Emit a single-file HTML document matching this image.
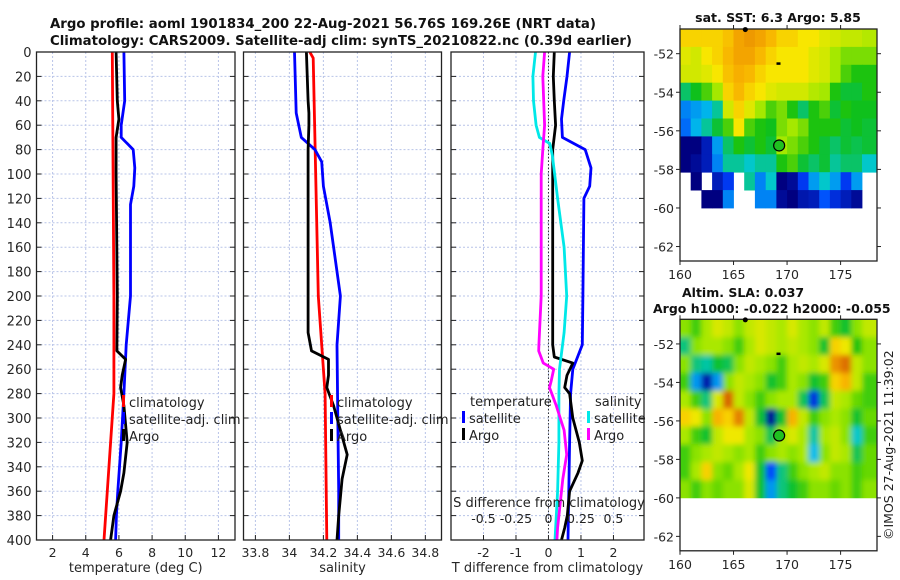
<!DOCTYPE html>
<html><head><meta charset="utf-8">
<style>
body{margin:0;background:#fff;}
svg{display:block;font-family:"DejaVu Sans","Liberation Sans",sans-serif;}
</style></head>
<body>
<svg id="fig" width="900" height="580" viewBox="0 0 900 580" xmlns="http://www.w3.org/2000/svg">
<defs>
<filter id="blur" x="-5%" y="-5%" width="110%" height="110%"><feGaussianBlur stdDeviation="2.6"/></filter>
<clipPath id="slaclip"><rect x="680" y="319.3" width="197" height="179"/></clipPath>
</defs>
<text x="50" y="28" font-size="13.2" font-weight="bold" fill="#111" textLength="546" lengthAdjust="spacingAndGlyphs">Argo profile: aoml 1901834_200 22-Aug-2021 56.76S 169.26E (NRT data)</text>
<text x="50" y="45" font-size="13.2" font-weight="bold" fill="#111" textLength="582" lengthAdjust="spacingAndGlyphs">Climatology: CARS2009. Satellite-adj clim: synTS_20210822.nc (0.39d earlier)</text>
<text x="778" y="22" font-size="12.5" font-weight="bold" text-anchor="middle" fill="#111">sat. SST: 6.3 Argo: 5.85</text>
<text x="682" y="297" font-size="12.5" font-weight="bold" fill="#111">Altim. SLA: 0.037</text>
<text x="653" y="313" font-size="12.5" font-weight="bold" fill="#111">Argo h1000: -0.022 h2000: -0.055</text>
<text transform="translate(893,540) rotate(-90)" font-size="12.5" fill="#222">©IMOS 27-Aug-2021 11:39:02</text>
</svg>
<script>
// depth axis
const depthTicks=[0,20,40,60,80,100,120,140,160,180,200,220,240,260,280,300,320,340,360,380,400];
// temperature panel
const tTicks=[2,4,6,8,10,12];
const tClimDepth=[0,100,200,280,320,360,400];
const tClim=[5.6,5.65,5.7,5.7,5.5,5.3,5.1];
const tSatDepth=[0,40,60,70,80,95,110,125,200,240,280,320,360,380,400];
const tSat=[6.3,6.35,6.14,6.14,6.86,6.96,6.9,6.7,6.7,6.44,6.3,6.14,5.93,5.85,5.8];
const tArgoDepth=[0,40,55,70,100,200,245,252,265,275,290,320,345,360,380,400];
const tArgo=[5.83,5.9,6.0,5.83,5.83,5.9,5.88,6.4,6.2,6.1,6.3,6.5,6.3,6.1,5.7,5.5];
// salinity panel
const sTicks=[33.8,34,34.2,34.4,34.6,34.8];
const sTickLabels=["33.8","34","34.2","34.4","34.6","34.8"];
const sClimDepth=[0,5,200,240,280,400];
const sClim=[34.12,34.14,34.17,34.19,34.21,34.22];
const sSatDepth=[0,50,70,80,90,110,140,150,200,240,300,360,400];
const sSat=[34.03,34.04,34.07,34.15,34.19,34.2,34.24,34.25,34.3,34.28,34.285,34.29,34.29];
const sArgoDepth=[0,40,50,60,80,200,230,245,252,265,275,290,330,350,380,400];
const sArgo=[34.1,34.11,34.115,34.115,34.11,34.11,34.11,34.13,34.23,34.23,34.22,34.26,34.34,34.31,34.29,34.28];
// difference panel
const dTTicks=[-2,-1,0,1,2];
const dSTicks=[-0.5,-0.25,0,0.25,0.5];
const dSTickLabels=["-0.5","-0.25","0","0.25","0.5"];
const dTSatDepth=[0,20,40,55,70,80,95,110,120,200,240,260,280,320,400];
const dTSat=[0.65,0.57,0.47,0.4,0.43,1.13,1.31,1.27,1.09,1.06,1.04,0.75,0.68,0.65,0.6];
const dTArgoDepth=[0,20,40,60,80,240,250,255,265,275,280,300,320,335,345,360,380,390,400];
const dTArgo=[0.18,0.15,0.18,0.22,0.13,0.13,0.18,0.75,0.57,0.5,0.65,0.75,0.95,1.04,0.91,0.65,0.58,0.5,0.4];
const dSSatDepth=[0,20,40,60,70,75,85,120,160,200,230,260,280,320,360,400];
const dSSat=[-0.1,-0.12,-0.115,-0.095,-0.07,0.01,0.03,0.07,0.12,0.14,0.12,0.085,0.08,0.08,0.07,0.05];
const dSArgoDepth=[0,20,60,80,100,200,240,245,255,260,270,275,290,310,330,350,370,390,400];
const dSArgo=[-0.03,-0.044,-0.03,-0.044,-0.056,-0.056,-0.074,-0.075,-0.04,0.04,0.02,0.008,0.06,0.12,0.14,0.11,0.09,0.07,0.065];
// maps
const mapLons=[160,161,162,163,164,165,166,167,168,169,170,171,172,173,174,175,176,177];
const mapLatTicks=[-52,-54,-56,-58,-60,-62];
const mapLonTicks=[160,165,170,175];
const N=null;
const sstGrid=[
[7,7,7,7,7.2,7.5,7.6,7.5,7.3,7,7,6.8,6.8,6.6,6.5,6.4,6.4,6.3],
[6.6,6.5,6.8,7,7.3,7.5,7.5,7.3,7,6.8,6.8,6.8,6.6,6.5,6.2,6,6,6],
[6.5,6.5,6.6,6.8,7.2,7.4,7.3,7,6.8,6.8,6.8,6.8,6.6,6.5,6.2,5.8,5.6,5.6],
[5.2,5.5,5.8,6.2,7,7.3,7,6.8,6.6,6.5,6.5,6.5,6.3,6.2,5.6,5.4,5.4,5.6],
[4.4,4.5,4.6,5,6.5,7,6.6,6.2,5.8,6,5.6,5.2,5.6,5.8,5.4,5.6,5.5,5.5],
[4.3,4.6,5,5.4,5.8,6.8,5.8,5.6,5.5,6,6.2,6,5.6,5.6,5.6,5.4,5.5,5.4],
[3,3,3.5,4.5,5.2,5.6,5.4,5.6,5.4,6.2,6,5.8,5.6,5.4,5.2,5.4,5.3,5.4],
[3,3.2,3.5,4.4,5,5,4.8,5,5,5.6,5.8,5.4,5.2,5.4,5,5.2,5.2,4.8],
[N,3,N,3.5,4,N,5,4.4,4.8,3,3.2,4,4.5,4.8,4.5,4,4.5,N],
[N,N,3,3,4.4,N,N,4.4,4.4,3.2,3,3.4,3.5,4.2,3.8,3.5,3.2,N]];
const slaGrid=[
[0.02,0,0.03,0.05,0.04,0.02,0.04,0.05,0.04,0.03,0.05,0.03,0.02,0.04,0,-0.02,0.02,0.04],
[-0.04,0.02,0.03,0.03,0.02,0,0.03,0.05,0.04,0.03,0.04,0.03,0.02,-0.02,0.08,0.06,-0.01,0.02],
[0.02,-0.04,-0.05,-0.02,-0.03,0.02,0.04,0.03,0.02,0,0.03,0.04,0.03,0.05,0.12,0.14,0.04,0.02],
[0,-0.08,-0.15,-0.08,0.02,0.04,0.03,0.02,-0.02,0,0.03,0.02,-0.02,0,0.08,0.1,0.04,0],
[0.03,0,-0.04,0.05,0.15,0.04,0.02,0,0.02,0.03,0.03,-0.03,-0.12,-0.03,0.04,0.03,0.01,0],
[0.08,0.06,0.02,0.1,0.08,0.13,0.04,-0.02,-0.16,-0.02,0.1,0.04,0,0.02,0.03,0.02,-0.02,0.01],
[0.03,0,-0.02,0.04,0.06,0.06,0.03,0.02,-0.03,0.03,0.05,0.03,-0.05,0.03,0.04,0.02,-0.06,0],
[0,0.02,0.03,0.04,0.03,0.02,0.03,0,0.02,0.03,0.02,0.03,-0.07,0.02,0.04,0.03,-0.03,0.01],
[0,0.03,0.08,0.02,0.01,0.03,0.06,-0.02,-0.1,-0.04,0,0.02,0.03,0.04,0.02,0.02,0,0.01],
[0.02,0,0.02,0.01,0.02,0.02,0.05,-0.02,-0.08,-0.04,-0.02,0,0.02,0.02,0.01,0.02,0,0.02]];
const argoLon=169.26, argoLat=-56.76;

const svg=document.getElementById('fig');
const NS='http://www.w3.org/2000/svg';
function mk(tag,attrs,parent){const e=document.createElementNS(NS,tag);for(const k in attrs)e.setAttribute(k,attrs[k]);(parent||svg).appendChild(e);return e;}

const Y0=52,Y1=540;
const yD=d=>Y0+(d/400)*(Y1-Y0);

function panel(name,x0,x1,xmin,xmax,ticks,labels,xlabel,showY){
  const g=mk('g',{});
  
  
  const xs=v=>x0+(v-xmin)/(xmax-xmin)*(x1-x0);
  ticks.forEach(v=>{const l=mk('line',{x1:xs(v),x2:xs(v),y1:Y0,y2:Y1,stroke:'#b8c4e8','stroke-width':1,'stroke-dasharray':'2,2'},g);
    });
  depthTicks.forEach(d=>{const l=mk('line',{x1:x0,x2:x1,y1:yD(d),y2:yD(d),stroke:'#b8c4e8','stroke-width':1,'stroke-dasharray':'2,2'},g);
    
    mk('line',{x1:x0,x2:x0+5,y1:yD(d),y2:yD(d),stroke:'#222'},g);mk('line',{x1:x1-5,x2:x1,y1:yD(d),y2:yD(d),stroke:'#222'},g);
    if(showY){const t=mk('text',{x:x0-5,y:yD(d)+5,'text-anchor':'end','font-size':13,fill:'#262626'},g);t.textContent=d;
      }});
  ticks.forEach((v,i)=>{mk('line',{x1:xs(v),x2:xs(v),y1:Y1,y2:Y1-5,stroke:'#222'},g);
    const t=mk('text',{x:xs(v),y:Y1+17,'text-anchor':'middle','font-size':12.5,fill:'#262626'},g);t.textContent=labels[i];
    });
  const xl=mk('text',{x:(x0+x1)/2,y:Y1+32,'text-anchor':'middle','font-size':13,fill:'#262626'},g);xl.textContent=xlabel;
  
  return {g,xs};
}
function line(p,xs,vals,depths,color,name){
  const pts=vals.map((v,i)=>xs(v).toFixed(1)+','+yD(depths[i]).toFixed(1)).join(' ');
  const l=mk('polyline',{points:pts,fill:'none',stroke:color,'stroke-width':2.8,'stroke-linejoin':'round'},p.g);
  
}
function box(p,x0,x1){const r=mk('rect',{x:x0,y:Y0,width:x1-x0,height:Y1-Y0,fill:'none',stroke:'#222','stroke-width':1.3},p.g);
  }
function legend(p,x,y,items){
  items.forEach((it,i)=>{const yy=y+i*17;
    mk('rect',{x:x,y:yy-7,width:3,height:12,fill:it[1]},p.g);
    const t=mk('text',{x:x+7,y:yy+5,'font-size':13,fill:'#222'},p.g);t.textContent=it[0];
    });
}

// Panel 1
const p1=panel('temperature-panel',36.5,235,1.03,13,tTicks,tTicks.map(String),'temperature (deg C)',true);
line(p1,p1.xs,tClim,tClimDepth,'#ff0000','temp-climatology-line');
line(p1,p1.xs,tSat,tSatDepth,'#0000ff','temp-satellite-line');
line(p1,p1.xs,tArgo,tArgoDepth,'#000000','temp-argo-line');
box(p1,36.5,235);
legend(p1,122,402,[['climatology','#ff0000'],['satellite-adj. clim','#0000ff'],['Argo','#000']]);

// Panel 2
const p2=panel('salinity-panel',243.5,441.5,33.73,34.895,sTicks,sTickLabels,'salinity',false);
line(p2,p2.xs,sClim,sClimDepth,'#ff0000','sal-climatology-line');
line(p2,p2.xs,sSat,sSatDepth,'#0000ff','sal-satellite-line');
line(p2,p2.xs,sArgo,sArgoDepth,'#000000','sal-argo-line');
box(p2,243.5,441.5);
legend(p2,330,402,[['climatology','#ff0000'],['satellite-adj. clim','#0000ff'],['Argo','#000']]);

// Panel 3
const p3=panel('difference-panel',451,644,-3.0,2.94,dTTicks,dTTicks.map(String),'T difference from climatology',false);
const xsS=v=>p3.xs(v*4);
mk('line',{x1:p3.xs(0),x2:p3.xs(0),y1:Y0,y2:Y1,stroke:'#333','stroke-width':1,'stroke-dasharray':'1.5,2'},p3.g);
line(p3,p3.xs,dTSat,dTSatDepth,'#0000ff','tdiff-satellite-line');
line(p3,p3.xs,dTArgo,dTArgoDepth,'#000000','tdiff-argo-line');
line(p3,xsS,dSSat,dSSatDepth,'#00e8e8','sdiff-satellite-line');
line(p3,xsS,dSArgo,dSArgoDepth,'#ff00ff','sdiff-argo-line');
box(p3,451,644);
{const t=mk('text',{x:470,y:406,'font-size':13,fill:'#222'},p3.g);t.textContent='temperature';
 }
{const t=mk('text',{x:595,y:406,'font-size':13,fill:'#222'},p3.g);t.textContent='salinity';
 }
legend(p3,462,418,[['satellite','#0000ff'],['Argo','#000']]);
legend(p3,587,418,[['satellite','#00e8e8'],['Argo','#ff00ff']]);
{const t=mk('text',{x:549,y:507,'text-anchor':'middle','font-size':13,fill:'#222'},p3.g);t.textContent='S difference from climatology';
 }
dSTicks.forEach((v,i)=>{const t=mk('text',{x:xsS(v),y:523,'text-anchor':'middle','font-size':12.5,fill:'#222'},p3.g);t.textContent=dSTickLabels[i];
 });

// colormap
const cstops=[[0,[0,0,128]],[0.22,[0,64,255]],[0.33,[0,200,232]],[0.5,[16,192,16]],[0.62,[160,232,0]],[0.74,[248,232,0]],[0.86,[248,176,0]],[1,[216,100,0]]];
function cmap(t){t=Math.max(0,Math.min(1,t));for(let i=1;i<cstops.length;i++){if(t<=cstops[i][0]){const a=cstops[i-1],b=cstops[i],f=(t-a[0])/(b[0]-a[0]);
  return 'rgb('+a[1].map((c,k)=>Math.round(c+(b[1][k]-c)*f)).join(',')+')';}}return 'rgb(216,100,0)';}

function map(name,top,grid,norm,smooth){
  const X0=680,X1=877,lonMin=160,lonMax=178.4,latTop=-50.72,latBot=-62.75;
  const H=(top===29)?232:231.5;
  const bottom=top+H;
  const xs=lon=>X0+(lon-lonMin)/(lonMax-lonMin)*(X1-X0);
  const ys=lat=>top+(latTop-lat)/(latTop-latBot)*H;
  const g=mk('g',{});
  
  
  let cg=g;
  if(smooth){const outer=mk('g',{'clip-path':'url(#slaclip)'},g);cg=mk('g',{filter:'url(#blur)'},outer);}
  const rowH=(60-50.72)/grid.length;
  grid.forEach((row,r)=>{row.forEach((v,c)=>{if(v===null)return;
    const la=latTop-r*rowH;const lo=mapLons[c];let lo2=(c===row.length-1)?lonMax:lo+1;
    let x=xs(lo),w=xs(lo2)-xs(lo)+0.4,y=ys(la),h=ys(la-rowH)-ys(la)+0.4;
    if(smooth){if(c===0){x-=8;w+=8;}if(c===row.length-1){w+=8;}if(r===0){y-=8;h+=8;}if(r===grid.length-1){h+=8;}}
    const cell=mk('rect',{x:x.toFixed(1),y:y.toFixed(1),width:w.toFixed(1),height:h.toFixed(1),fill:cmap(norm(v))},cg);
    });});
  mk('rect',{x:X0,y:top,width:X1-X0,height:H,fill:'none',stroke:'#222','stroke-width':1.3},g);
  mapLatTicks.forEach(la=>{const y=ys(la);mk('line',{x1:X0-4,x2:X0,y1:y,y2:y,stroke:'#222'},g);mk('line',{x1:X1,x2:X1+4,y1:y,y2:y,stroke:'#222'},g);
    const t=mk('text',{x:X0-6,y:y+5,'text-anchor':'end','font-size':12.5,fill:'#262626'},g);t.textContent=la;
    });
  mapLonTicks.forEach(lo=>{const x=xs(lo);mk('line',{x1:x,x2:x,y1:bottom,y2:bottom+4,stroke:'#222'},g);mk('line',{x1:x,x2:x,y1:top-4,y2:top,stroke:'#222'},g);
    const t=mk('text',{x:x,y:bottom+18,'text-anchor':'middle','font-size':12.5,fill:'#262626'},g);t.textContent=lo;
    });
  mk('circle',{cx:xs(166.1),cy:ys(-50.75),r:2.5,fill:'#000'},g);
  mk('rect',{x:xs(169.2)-2,y:ys(-52.5)-1,width:4,height:2.5,fill:'#000'},g);
  const c=mk('circle',{cx:xs(argoLon),cy:ys(argoLat),r:5.5,fill:'#20c020',stroke:'#000','stroke-width':1.2},g);
  
}
map('sst-map',29,sstGrid,v=>(v-3)/5.1,false);
map('sla-map',319.3,slaGrid,v=>0.54+v/0.32,true);
</script>
</body></html>
